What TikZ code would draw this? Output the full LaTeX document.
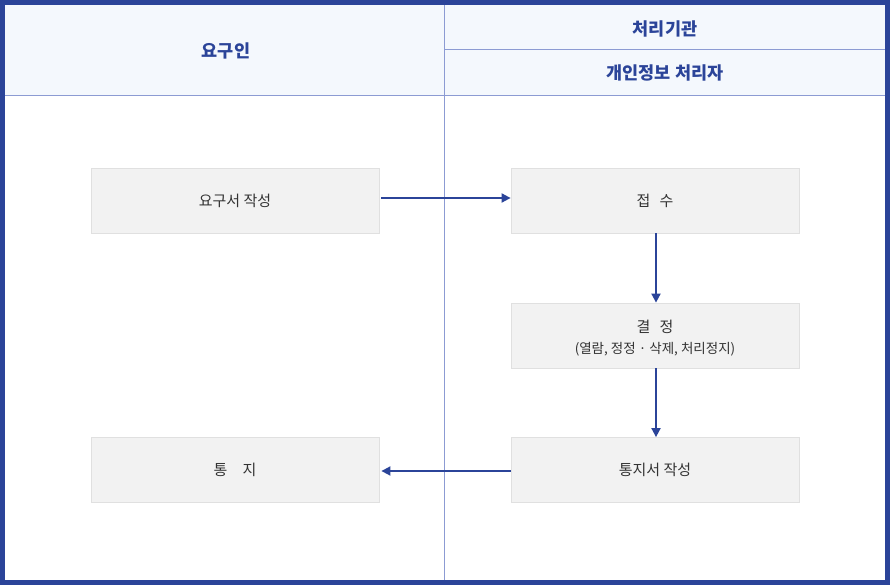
\documentclass[tikz,border=0pt]{standalone}
\usepackage{fontspec}
\setmainfont{Noto Sans CJK KR}
\usetikzlibrary{arrows.meta}
\definecolor{navy}{HTML}{2B4499}
\definecolor{sepline}{HTML}{8C9BD3}
\definecolor{headfill}{HTML}{F4F8FD}
\definecolor{boxfill}{HTML}{F2F2F2}
\definecolor{boxline}{HTML}{E0E0E0}
\definecolor{txt}{HTML}{333333}
\tikzset{
  stepbox/.style={draw=boxline, fill=boxfill, line width=0.8pt, minimum width=288pt, minimum height=65pt, inner sep=0pt, text=txt, font=\fontsize{15}{18}\selectfont, align=center},
  headtext/.style={text=navy, font=\fontsize{17.5}{20}\selectfont\bfseries},
  flow/.style={draw=navy, line width=1.8pt, -{Triangle[length=9pt,width=9pt]}},
}
\begin{document}
\begin{tikzpicture}[x=1pt,y=-1pt]
\useasboundingbox (0,0) rectangle (890,585);
\fill[white] (0,0) rectangle (890,585);
\fill[headfill] (5,5) rectangle (885,95);
\draw[sepline, line width=1pt] (5,95.5) -- (885,95.5);
\draw[sepline, line width=1pt] (444.5,5) -- (444.5,580);
\draw[sepline, line width=1pt] (444.5,49.5) -- (885,49.5);
\draw[navy, line width=5pt] (2.5,2.5) rectangle (887.5,582.5);
\node[headtext] (h1) at (226,51) {요구인};
\node[headtext] (h2) at (665,29) {처리기관};
\node[headtext] (h3) at (665,73) {개인정보 처리자};
\node[stepbox] (a) at (235,200.5) {요구서 작성};
\node[stepbox] (b) at (655,200.5) {접\hspace{0.6em}수};
\node[stepbox] (c) at (655,335.5) {};
\node[text=txt, font=\fontsize{15}{18}\selectfont, align=center, inner sep=0pt] (ct) at ([yshift=-2.5pt]c.center) {결\hspace{0.6em}정\\[3.5pt]{\fontsize{13.5}{16}\selectfont (열람, 정정 · 삭제, 처리정지)}};
\node[stepbox] (d) at (655,470) {통지서 작성};
\node[stepbox] (e) at (235,470) {통\hspace{1em}지};
\draw[flow] ([xshift=2pt,yshift=2.5pt]a.east) -- ([yshift=2.5pt]b.west);
\draw[flow] ([xshift=1pt]b.south) -- ([xshift=1pt]c.north);
\draw[flow] ([xshift=1pt]c.south) -- ([xshift=1pt]d.north);
\draw[flow] ([yshift=-1pt]d.west) -- ([xshift=2pt,yshift=-1pt]e.east);
\end{tikzpicture}
\end{document}
